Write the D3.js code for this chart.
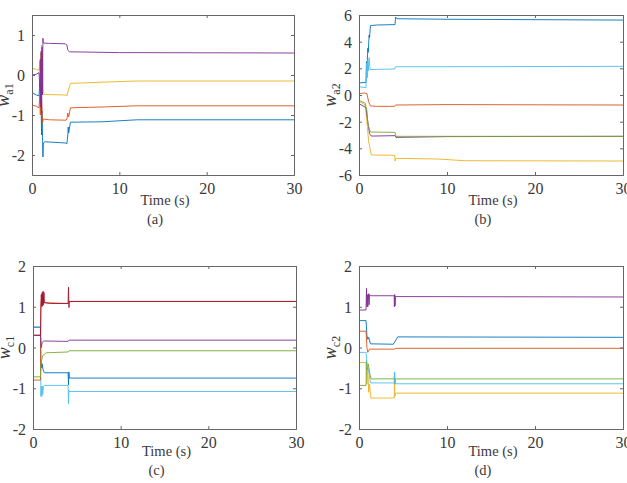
<!DOCTYPE html>
<html>
<head>
<meta charset="utf-8">
<script src="https://cdn.jsdelivr.net/npm/d3@7"></script>
<style>
  body { margin: 0; background: #fff; }
  svg text { font-family: "Liberation Serif", "Times New Roman", serif; fill: #3a3a3a; }
</style>
</head>
<body>
<svg id="chart" width="627" height="483"></svg>
<script>
// x ticks shared by all four panels
var timeTicks = [0, 10, 20, 30];

// (a) actor weights w_a1, points are [time, value]
var wa1Blue = [[0,-0.44],[0.5,-0.5],[0.8,-0.52],[0.9,-0.2],[0.95,-0.7],[1.0,-0.3],[1.1,-1.5],[1.15,-0.9],[1.25,-2.05],[1.3,-1.7],[1.5,-1.67],[3.9,-1.7],[4.0,-1.72],[4.1,-1.5],[4.15,-1.3],[4.2,-1.45],[4.4,-1.18],[8,-1.17],[12,-1.12],[30,-1.12]];
var wa1Orange = [[0,-0.75],[0.5,-0.78],[0.8,-0.82],[0.9,-0.5],[0.95,-1.0],[1.0,-0.4],[1.05,-0.9],[1.1,-0.6],[1.2,-1.2],[1.3,-1.1],[2,-1.12],[3.9,-1.13],[4.0,-1.1],[4.1,-0.95],[4.2,-1.05],[4.4,-0.82],[8,-0.8],[12,-0.77],[30,-0.77]];
var wa1Yellow = [[0,0.17],[0.5,0.14],[0.8,0.12],[0.9,0.35],[0.95,0.1],[1.0,0.55],[1.05,0.2],[1.1,0.75],[1.15,0.0],[1.2,0.5],[1.3,-0.48],[2,-0.49],[3.9,-0.5],[4.0,-0.52],[4.2,-0.35],[4.4,-0.21],[8,-0.18],[12,-0.15],[30,-0.15]];
var wa1Purple = [[0,0.0],[0.5,0.02],[0.8,0.06],[0.9,-0.3],[0.95,0.4],[1.0,-0.8],[1.05,0.6],[1.1,-0.95],[1.15,0.7],[1.2,-0.5],[1.25,0.92],[1.3,0.8],[2,0.79],[3.8,0.78],[4.0,0.75],[4.1,0.62],[4.3,0.58],[10,0.56],[30,0.55]];

// (b) actor weights w_a2
var wa2Blue = [[0,0.9],[0.8,0.95],[0.85,2.5],[0.9,1.8],[1.0,3.5],[1.05,3.2],[1.15,4.5],[1.2,4.3],[1.3,5.2],[2,5.25],[4.1,5.28],[4.15,5.85],[4.3,5.72],[10,5.68],[30,5.62]];
var wa2Orange = [[0,0.1],[0.6,0.15],[0.9,0.1],[1.1,-0.5],[1.3,-0.82],[2,-0.85],[4.0,-0.85],[4.2,-0.75],[10,-0.72],[30,-0.75]];
var wa2Yellow = [[0,-0.47],[0.7,-0.75],[0.9,-2.0],[1.1,-3.5],[1.4,-4.5],[4.05,-4.52],[4.1,-4.95],[4.2,-4.75],[9,-4.8],[12,-4.93],[30,-4.95]];
var wa2Purple = [[0,-0.65],[0.8,-0.95],[1.0,-2.0],[1.2,-2.9],[1.4,-3.08],[4.1,-3.05],[4.2,-3.18],[10,-3.12],[30,-3.1]];
var wa2Green = [[0,-0.42],[0.7,-0.6],[0.9,-1.2],[1.0,-2.2],[1.1,-2.4],[1.3,-2.78],[4.1,-2.8],[4.2,-3.1],[30,-3.1]];
var wa2Cyan = [[0,0.62],[0.8,0.55],[0.85,2.4],[0.95,1.3],[1.0,2.6],[1.05,1.8],[1.15,2.8],[1.25,1.9],[2,1.92],[4.05,1.95],[4.15,2.12],[10,2.12],[30,2.15]];

// (c) critic weights w_c1
var wc1Blue = [[0,0.5],[0.85,0.5],[0.9,-0.3],[1.0,-0.5],[1.05,-0.4],[1.15,-0.55],[1.3,-0.62],[4.0,-0.62],[4.05,-0.92],[4.1,-0.6],[4.15,-0.75],[30,-0.75]];
var wc1Orange = [[0,-0.8],[0.85,-0.8],[0.9,1.0],[1.0,1.3],[1.3,1.1],[4.0,1.08],[4.15,1.13],[30,1.13]];
var wc1Purple = [[0,0.3],[0.85,0.3],[0.95,0.0],[1.05,0.12],[1.2,0.16],[4.0,0.15],[4.1,0.18],[30,0.18]];
var wc1Green = [[0,-0.72],[0.85,-0.72],[0.95,-0.35],[1.1,-0.2],[1.5,-0.13],[4.0,-0.11],[4.1,-0.08],[30,-0.08]];
var wc1Cyan = [[0,0.5],[0.85,0.5],[0.9,-1.2],[0.95,-0.95],[1.0,-1.2],[1.05,-0.95],[1.1,-1.15],[1.2,-0.95],[1.3,-0.93],[4.0,-0.93],[4.05,-1.38],[4.1,-1.05],[4.15,-1.08],[30,-1.08]];
var wc1Crimson = [[0,0.3],[0.85,0.3],[0.9,1.0],[0.95,1.3],[1.0,1.0],[1.05,1.35],[1.1,1.02],[1.15,1.38],[1.2,1.05],[1.25,1.35],[1.3,1.1],[2,1.08],[4.0,1.08],[4.05,1.48],[4.1,0.98],[4.15,1.13],[30,1.13]];

// (d) critic weights w_c2
var wc2Blue = [[0,0.66],[0.8,0.66],[0.9,0.3],[1.0,0.2],[1.1,0.25],[1.3,0.09],[3.9,0.08],[4.4,0.26],[30,0.25]];
var wc2Orange = [[0,0.4],[0.8,0.4],[0.9,0.0],[1.0,-0.12],[1.2,-0.04],[4.0,-0.04],[4.2,-0.02],[30,-0.02]];
var wc2Yellow = [[0,-0.37],[0.8,-0.37],[0.9,-0.9],[1.0,-0.5],[1.1,-1.1],[1.2,-0.9],[1.35,-1.24],[4.0,-1.24],[4.03,-0.7],[4.08,-1.2],[4.15,-1.12],[30,-1.12]];
var wc2Purple = [[0,0.92],[0.8,0.92],[0.85,1.45],[0.9,1.0],[0.95,1.3],[1.0,1.0],[1.1,1.32],[1.15,1.05],[1.2,1.3],[1.3,1.27],[4.0,1.27],[4.02,1.0],[4.06,1.3],[4.1,1.02],[4.14,1.25],[30,1.24]];
var wc2Green = [[0,-0.93],[0.8,-0.93],[0.85,-0.3],[0.95,-0.55],[1.05,-0.4],[1.2,-0.6],[1.35,-0.77],[4.0,-0.77],[4.03,-0.6],[4.08,-0.9],[4.15,-0.77],[30,-0.77]];
var wc2Cyan = [[0,-0.12],[0.8,-0.12],[0.95,-0.5],[1.1,-0.55],[1.3,-0.87],[4.0,-0.87],[4.05,-0.6],[4.1,-0.89],[30,-0.89]];

// matlab default line colours
var colors = {blue: "#0072BD", orange: "#D95319", yellow: "#EDB120", purple: "#7E2F8E",
  green: "#77AC30", cyan: "#4DBEEE", crimson: "#A2142F"};

var panels = [
  {left: 32, right: 294, top: 15, bottom: 175, ymin: -2.5, ymax: 1.5, yticks: [-2, -1, 0, 1],
   sub: "a1", caption: "(a)",
   series: [[wa1Blue, "blue"], [wa1Orange, "orange"], [wa1Yellow, "yellow"], [wa1Purple, "purple"]]},
  {left: 359, right: 623, top: 15, bottom: 175, ymin: -6, ymax: 6, yticks: [-6, -4, -2, 0, 2, 4, 6],
   sub: "a2", caption: "(b)",
   series: [[wa2Blue, "blue"], [wa2Orange, "orange"], [wa2Yellow, "yellow"], [wa2Purple, "purple"], [wa2Green, "green"], [wa2Cyan, "cyan"]]},
  {left: 33, right: 296, top: 266, bottom: 429, ymin: -2, ymax: 2, yticks: [-2, -1, 0, 1, 2],
   sub: "c1", caption: "(c)",
   series: [[wc1Cyan, "cyan"], [wc1Blue, "blue"], [wc1Orange, "orange"], [wc1Purple, "purple"], [wc1Green, "green"], [wc1Crimson, "crimson"]]},
  {left: 359, right: 623, top: 266, bottom: 429, ymin: -2, ymax: 2, yticks: [-2, -1, 0, 1, 2],
   sub: "c2", caption: "(d)",
   series: [[wc2Blue, "blue"], [wc2Orange, "orange"], [wc2Yellow, "yellow"], [wc2Purple, "purple"], [wc2Green, "green"], [wc2Cyan, "cyan"]]}
];

var svg = d3.select("#chart");

panels.forEach(function(p, i) {
  var x = d3.scaleLinear().domain([0, 30]).range([p.left, p.right]);
  var y = d3.scaleLinear().domain([p.ymin, p.ymax]).range([p.bottom, p.top]);
  var g = svg.append("g").attr("class", "panel");

  g.append("clipPath").attr("id", "clip" + i)
    .append("rect")
    .attr("x", p.left).attr("y", p.top)
    .attr("width", p.right - p.left).attr("height", p.bottom - p.top);

  var line = d3.line()
    .x(function(d) { return x(d[0]); })
    .y(function(d) { return y(d[1]); });

  var lines = g.append("g").attr("clip-path", "url(#clip" + i + ")");
  p.series.forEach(function(s) {
    lines.append("path")
      .datum(s[0])
      .attr("fill", "none")
      .attr("stroke", colors[s[1]])
      .attr("stroke-width", 0.9)
      .attr("stroke-linejoin", "round")
      .attr("d", line);
  });

  // axes: ticks point inward, on all four sides like a matlab box
  var fmt = function(d) { return d < 0 ? "-" + Math.abs(d) : "" + d; };
  var tk = 3;
  var bottom = g.append("g").attr("transform", "translate(0," + p.bottom + ")")
    .call(d3.axisBottom(x).tickValues(timeTicks).tickSize(-tk).tickPadding(8).tickFormat(fmt));
  var top = g.append("g").attr("transform", "translate(0," + p.top + ")")
    .call(d3.axisTop(x).tickValues(timeTicks).tickSize(-tk).tickFormat(""));
  var left = g.append("g").attr("transform", "translate(" + p.left + ",0)")
    .call(d3.axisLeft(y).tickValues(p.yticks).tickSize(-tk).tickPadding(7).tickFormat(fmt));
  var right = g.append("g").attr("transform", "translate(" + p.right + ",0)")
    .call(d3.axisRight(y).tickValues(p.yticks).tickSize(-tk).tickFormat(""));

  [bottom, top, left, right].forEach(function(a) {
    a.select(".domain").attr("stroke", "#666").attr("stroke-width", 1);
    a.selectAll(".tick line").attr("stroke", "#666");
    a.selectAll(".tick text").attr("font-size", 16);
  });
  left.selectAll(".tick text").attr("dy", "0.35em");
  bottom.selectAll(".tick text").attr("dy", "0.7em");

  var cx = (p.left + p.right) / 2;
  var offs = i < 2 ? 30 : 27;

  g.append("text")
    .attr("x", cx + 2).attr("y", p.bottom + offs)
    .attr("text-anchor", "middle").attr("font-size", 14.5)
    .text("Time (s)");

  g.append("text")
    .attr("x", cx - 8).attr("y", p.bottom + offs + 19)
    .attr("text-anchor", "middle").attr("font-size", 14.5)
    .text(p.caption);

  var lbl = g.append("text")
    .attr("transform", "translate(" + (p.left - 23) + "," + ((p.top + p.bottom) / 2) + ") rotate(-90)")
    .attr("text-anchor", "middle").attr("font-size", 18);
  lbl.append("tspan").attr("font-style", "italic").text("w");
  lbl.append("tspan").attr("font-size", 12).attr("dy", 4).text(p.sub);
});
</script>
</body>
</html>
